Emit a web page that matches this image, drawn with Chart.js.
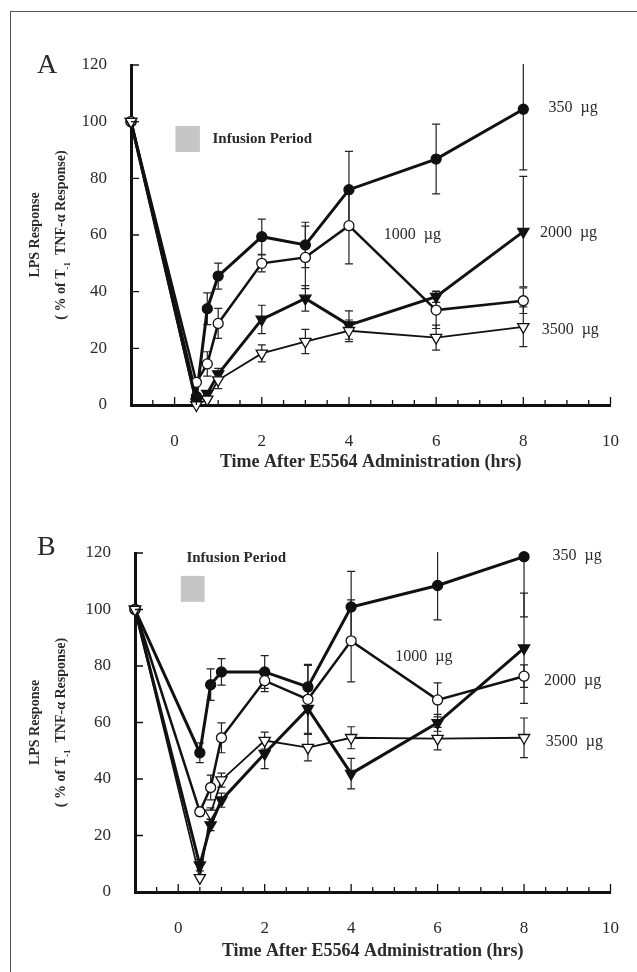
<!DOCTYPE html>
<html lang="en">
<head>
<meta charset="UTF-8">
<title>LPS Response after E5564</title>
<script src="https://cdn.jsdelivr.net/npm/chart.js"></script>
<style>
  body { margin: 0; background: #fff; }
  #page { position: relative; width: 637px; height: 972px; overflow: hidden; background: #fff; }
  #frame { position: absolute; left: 10px; top: 11px; width: 700px; height: 1000px;
           border-left: 1.5px solid #555; border-top: 1.5px solid #555; }
  canvas { position: absolute; left: 0; }
  #chartA { top: 0; }
  #chartB { top: 486px; }
</style>
</head>
<body>
<div id="page">
  <div id="frame"></div>
  <canvas id="chartA" width="637" height="486"></canvas>
  <canvas id="chartB" width="637" height="486"></canvas>
</div>
<script>
// sampling times (hrs)
const times = [-1, 0.5, 0.75, 1, 2, 3, 4, 6, 8];
const doses = ['350 µg', '1000 µg', '2000 µg', '3500 µg'];

// Panel A - values and SE
const a350 = [100, 3, 34, 45.5, 59.4, 56.5, 76, 86.8, 104.4];
const a350err = [0, 0, 5.6, 4.6, 6.2, 8, 13.5, 12.3, 21.4];
const a1000 = [100, 8, 14.5, 28.8, 50, 52.1, 63.3, 33.5, 36.8];
const a1000err = [0, 0, 4.3, 5.3, 3, 11, 13.5, 6.5, 4.5];
const a2000 = [100, 1, 4, 10.9, 30.2, 37.6, 28.2, 38.2, 61.2];
const a2000err = [0, 0, 0, 2, 5, 4.5, 5, 2, 19.5];
const a3500 = [100, 0, 2, 8.8, 18.2, 22.4, 26.2, 23.8, 27.6];
const a3500err = [0, 0, 0, 3, 3, 4.3, 3.8, 4.4, 7];

// Panel B - values and SE
const b350 = [100, 49.3, 73.4, 77.9, 77.9, 72.6, 100.9, 108.5, 118.7];
const b350err = [0, 3.5, 5.6, 4.7, 5.8, 8, 12.6, 12.2, 21.3];
const b1000 = [100, 28.4, 37, 54.6, 74.8, 68.2, 88.9, 68, 76.4];
const b1000err = [0, 1.5, 4.4, 5.3, 3.9, 12, 14.5, 6, 4];
const b2000 = [100, 9.5, 23.7, 32.5, 49, 64.9, 41.9, 59.9, 86.3];
const b2000err = [0, 2, 2, 2.5, 5.3, 9, 5.4, 3, 19.5];
const b3500 = [100, 5, 27.8, 39.6, 53.6, 51.1, 54.6, 54.3, 54.6];
const b3500err = [0, 0, 2, 2.5, 3, 4.7, 3.9, 4, 7];

const xTicks = [0, 2, 4, 6, 8, 10];
const yTicks = [0, 20, 40, 60, 80, 100, 120];

const SERIF = "'Liberation Serif', 'DejaVu Serif', serif";
const INK = '#111';
const TEXT = '#2a2a2a';

// marker look per dose
const looks = [
  { pointStyle: 'circle', radius: 5, fill: INK, width: 3 },
  { pointStyle: 'circle', radius: 5, fill: '#fff', width: 2.5 },
  { pointStyle: 'triangle', radius: 6.5, fill: INK, width: 3 },
  { pointStyle: 'triangle', radius: 6.5, fill: '#fff', width: 1.8 }
];

function makeDatasets(series, errs) {
  return series.map((vals, i) => ({
    label: doses[i],
    data: vals.map((v, k) => ({ x: times[k], y: v, err: errs[i][k] })),
    order: series.length - 1 - i, // higher dose drawn on top
    borderColor: INK,
    borderWidth: looks[i].width,
    backgroundColor: looks[i].fill,
    pointStyle: looks[i].pointStyle,
    pointRotation: looks[i].pointStyle === 'triangle' ? 180 : 0,
    pointRadius: looks[i].radius,
    pointBorderWidth: 1.3,
    pointBorderColor: INK,
    pointBackgroundColor: looks[i].fill,
    tension: 0,
    clip: false
  }));
}

function drawRotated(ctx, cx, cy, pieces) {
  ctx.save();
  ctx.translate(cx, cy);
  ctx.rotate(-Math.PI / 2);
  let total = 0;
  pieces.forEach(p => { ctx.font = p.font; p.w = ctx.measureText(p.text).width; total += p.w; });
  let x = -total / 2;
  ctx.textAlign = 'left';
  ctx.textBaseline = 'middle';
  ctx.fillStyle = TEXT;
  pieces.forEach(p => { ctx.font = p.font; ctx.fillText(p.text, x, p.dy || 0); x += p.w; });
  ctx.restore();
}

const decor = {
  id: 'decor',
  beforeDatasetsDraw(chart) {
    // error bars
    const { ctx, chartArea: ca } = chart;
    const xs = chart.scales.x, ys = chart.scales.y;
    ctx.save();
    ctx.beginPath();
    ctx.rect(0, ca.top - 1, chart.width, ca.bottom - ca.top + 2);
    ctx.clip();
    ctx.strokeStyle = '#222';
    ctx.lineWidth = 1.2;
    chart.data.datasets.forEach(ds => {
      ds.data.forEach(p => {
        if (!p.err) return;
        const px = xs.getPixelForValue(p.x);
        const top = ys.getPixelForValue(p.y + p.err);
        const bot = ys.getPixelForValue(p.y - p.err);
        ctx.beginPath();
        ctx.moveTo(px, top); ctx.lineTo(px, bot);
        ctx.moveTo(px - 4, top); ctx.lineTo(px + 4, top);
        ctx.moveTo(px - 4, bot); ctx.lineTo(px + 4, bot);
        ctx.stroke();
      });
    });
    ctx.restore();
  },
  afterDraw(chart, args, opts) {
    const { ctx, chartArea: ca } = chart;
    const xs = chart.scales.x, ys = chart.scales.y;
    ctx.save();
    // inward tick marks
    ctx.strokeStyle = INK;
    ctx.lineWidth = 1.3;
    ctx.beginPath();
    for (let t = -0.5; t <= 10.001; t += 0.5) {
      const px = xs.getPixelForValue(t);
      const len = (Math.abs(t % 2) < 0.001) ? 8 : 5;
      ctx.moveTo(px, ca.bottom); ctx.lineTo(px, ca.bottom - len);
    }
    yTicks.slice(1).forEach(v => {
      const py = ys.getPixelForValue(v);
      ctx.moveTo(ca.left, py); ctx.lineTo(ca.left + 8, py);
    });
    ctx.stroke();

    // infusion period box
    const b = opts.box;
    const bx0 = xs.getPixelForValue(b.x0), bx1 = xs.getPixelForValue(b.x1);
    const by0 = ys.getPixelForValue(b.y1), by1 = ys.getPixelForValue(b.y0);
    ctx.fillStyle = '#c6c6c6';
    ctx.fillRect(bx0, by0, bx1 - bx0, by1 - by0);
    ctx.fillStyle = TEXT;
    ctx.font = 'bold 15px ' + SERIF;
    ctx.textAlign = 'left';
    ctx.textBaseline = 'middle';
    ctx.fillText('Infusion Period', xs.getPixelForValue(b.tx), ys.getPixelForValue(b.ty));

    // dose labels
    ctx.font = '16px ' + SERIF;
    opts.notes.forEach((n, i) => {
      ctx.fillText(doses[i].replace(' ', '  '), xs.getPixelForValue(n[0]), ys.getPixelForValue(n[1]));
    });

    // panel letter
    ctx.font = '28px ' + SERIF;
    ctx.fillText(opts.letter, 37, opts.letterY);

    // x title
    ctx.font = 'bold 18px ' + SERIF;
    ctx.textAlign = 'center';
    ctx.fillText('Time After E5564 Administration (hrs)', (ca.left + ca.right) / 2, ca.bottom + opts.xTitleGap);
    ctx.restore();

    // y title
    const cy = (ca.top + ca.bottom) / 2;
    drawRotated(ctx, 35, cy, [{ text: 'LPS Response', font: 'bold 14px ' + SERIF }]);
    drawRotated(ctx, 61, cy, [
      { text: '( % of T', font: 'bold 14px ' + SERIF },
      { text: '-1', font: 'bold 9px ' + SERIF, dy: 7 },
      { text: '  TNF-\u03b1 Response)', font: 'bold 14px ' + SERIF }
    ]);
  }
};

function makeChart(id, series, errs, cfg) {
  return new Chart(document.getElementById(id), {
    type: 'line',
    data: { datasets: makeDatasets(series, errs) },
    plugins: [decor],
    options: {
      responsive: false,
      animation: false,
      layout: { padding: { top: cfg.top, right: cfg.right, left: 0, bottom: 0 } },
      plugins: {
        legend: { display: false },
        tooltip: { enabled: false },
        decor: cfg
      },
      scales: {
        x: {
          type: 'linear', min: -1, max: 10,
          afterBuildTicks: s => { s.ticks = xTicks.map(v => ({ value: v })); },
          ticks: { padding: 18, color: TEXT, font: { family: SERIF, size: 17 } },
          grid: { display: false },
          border: { color: INK, width: 3 },
          afterFit: s => { s.height = cfg.xHeight; }
        },
        y: {
          min: 0, max: 120,
          afterBuildTicks: s => { s.ticks = yTicks.map(v => ({ value: v })); },
          ticks: { padding: 16, color: TEXT, font: { family: SERIF, size: 17 } },
          grid: { display: false },
          border: { color: INK, width: 3 },
          afterFit: s => { s.width = cfg.yWidth; }
        }
      }
    }
  });
}

makeChart('chartA', [a350, a1000, a2000, a3500], [a350err, a1000err, a2000err, a3500err], {
  top: 65, right: 11, xHeight: 81, yWidth: 131,
  letter: 'A', letterY: 66, xTitleGap: 57,
  box: { x0: 0.02, x1: 0.58, y0: 89.3, y1: 98.5, tx: 0.87, ty: 94 },
  notes: [[8.58, 104.8], [4.8, 60], [8.38, 60.7], [8.42, 26.5]]
});

makeChart('chartB', [b350, b1000, b2000, b3500], [b350err, b1000err, b2000err, b3500err], {
  top: 67, right: 10, xHeight: 80, yWidth: 135,
  letter: 'B', letterY: 62, xTitleGap: 59,
  box: { x0: 0.06, x1: 0.61, y0: 102.7, y1: 111.9, tx: 0.19, ty: 118.2 },
  notes: [[8.66, 118.9], [5.02, 83.2], [8.46, 74.7], [8.5, 53.1]]
});
</script>
</body>
</html>
